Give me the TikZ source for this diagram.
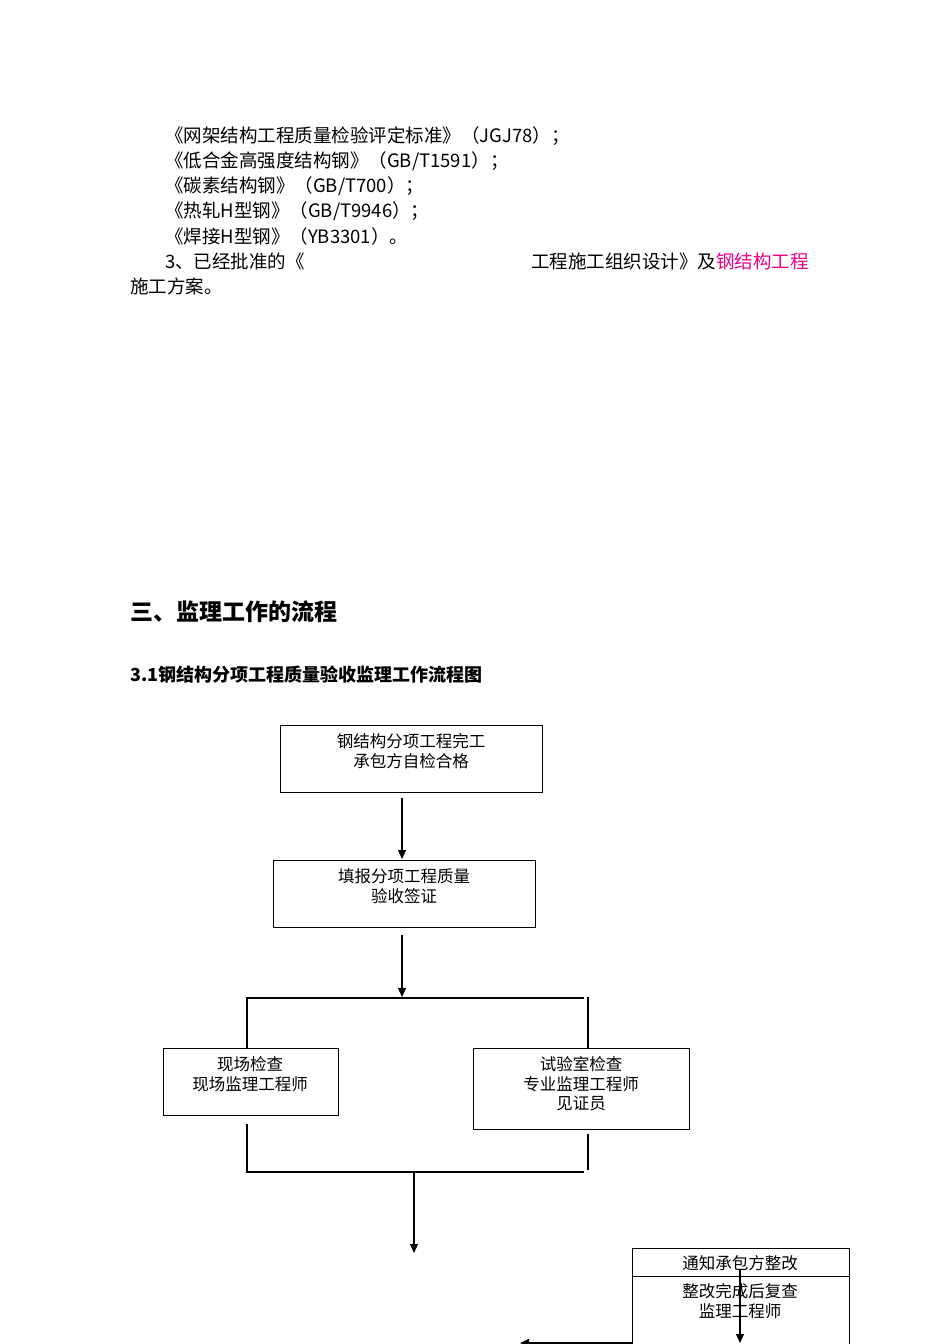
\documentclass[tikz,border=0pt]{standalone}
\usepackage{fontspec}
\setmainfont{Noto Sans CJK SC}
\usetikzlibrary{arrows.meta}
\tikzset{box/.style={draw,line width=1.1pt,inner sep=0pt,align=center},
 ln/.style={line width=1.1pt},
 arr/.style={line width=1.1pt,-{Triangle[length=9pt,width=8pt]}},
 tx/.style={anchor=west,inner sep=0pt,font=\fontsize{18.5pt}{20pt}\selectfont}}
\begin{document}
\begin{tikzpicture}[x=1pt,y=-1pt]
\useasboundingbox (0,0) rectangle (950,1344);
\clip (0,0) rectangle (950,1344);
\node[tx] (t1) at (165,136) {《网架结构工程质量检验评定标准》（JGJ78）；};
\node[tx] (t2) at (165,161) {《低合金高强度结构钢》（GB/T1591）；};
\node[tx] (t3) at (165,186) {《碳素结构钢》（GB/T700）；};
\node[tx] (t4) at (165,211) {《热轧H型钢》（GB/T9946）；};
\node[tx] (t5) at (165,236) {《焊接H型钢》（YB3301）。};
\node[tx] (t6) at (165,261) {3、已经批准的《};
\node[tx] (t7) at (531,261) {工程施工组织设计》及\textcolor{magenta}{钢结构工程}};
\node[tx] (t8) at (130,286) {施工方案。};
\node[anchor=west,inner sep=0pt,font=\fontsize{23pt}{24pt}\selectfont\bfseries] (h1) at (130,612) {三、监理工作的流程};
\node[anchor=west,inner sep=0pt,font=\fontsize{18pt}{20pt}\selectfont\bfseries] (h2) at (130,675) {3.1钢结构分项工程质量验收监理工作流程图};
\tikzset{every node/.append style={font=\fontsize{16.5pt}{19.5pt}\selectfont}}
\node[box,minimum width=262,minimum height=67,anchor=north west] (b1) at (280,725) {};
\node (b1t) at (411,751) [align=center] {钢结构分项工程完工\\承包方自检合格};
\node[box,minimum width=262,minimum height=67,anchor=north west] (b2) at (273,860) {};
\node (b2t) at (404,886) [align=center] {填报分项工程质量\\验收签证};
\node[box,minimum width=175,minimum height=67,anchor=north west] (b3) at (163,1048) {};
\node (b3t) at (250,1074) [align=center] {现场检查\\现场监理工程师};
\node[box,minimum width=216,minimum height=81,anchor=north west] (b4) at (473,1048) {};
\node (b4t) at (581,1084) [align=center] {试验室检查\\专业监理工程师\\见证员};
\node[box,minimum width=217,minimum height=28,anchor=north west] (b5) at (632,1248) {};
\node (b5t) at (740,1263) {通知承包方整改};
\node[box,minimum width=217,minimum height=80,anchor=north west] (b6) at (632,1276) {};
\node (b6t) at (740,1301) [align=center] {整改完成后复查\\监理工程师};
\coordinate (a1) at (402,798); \coordinate (a2) at (402,859);
\draw[arr] (a1) -- (a2);
\coordinate (a3) at (402,935); \coordinate (a4) at (402,997);
\draw[arr] (a3) -- (a4);
\coordinate (l1) at (247,1048); \coordinate (l2) at (247,998); \coordinate (l3) at (584,998);
\draw[ln] (l1) -- (l2) -- (l3);
\coordinate (r1) at (588,997); \coordinate (r2) at (588,1048);
\draw[ln] (r1) -- (r2);
\coordinate (m1) at (247,1124); \coordinate (m2) at (247,1172); \coordinate (m3) at (584,1172);
\draw[ln] (m1) -- (m2) -- (m3);
\coordinate (s1) at (588,1134); \coordinate (s2) at (588,1170);
\draw[ln] (s1) -- (s2);
\coordinate (d1) at (414,1172); \coordinate (d2) at (414,1253);
\draw[arr] (d1) -- (d2);
\coordinate (e1) at (740,1270); \coordinate (e2) at (740,1343);
\draw[arr] (e1) -- (e2);
\coordinate (f1) at (632,1343); \coordinate (f2) at (520,1343);
\draw[arr] (f1) -- (f2);
\end{tikzpicture}
\end{document}
